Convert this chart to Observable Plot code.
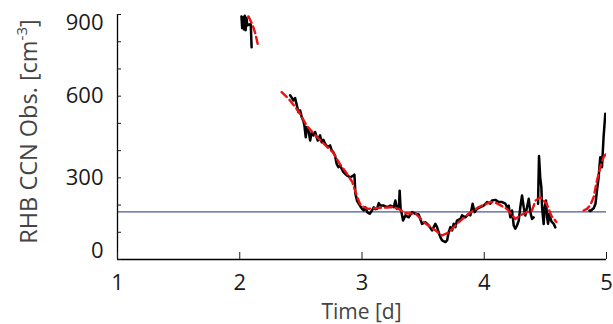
<!DOCTYPE html>
<html>
<head>
<meta charset="utf-8">
<script src="https://cdn.jsdelivr.net/npm/d3@7"></script>
<script src="https://cdn.jsdelivr.net/npm/@observablehq/plot@0.6"></script>
<style>
  html, body { margin: 0; padding: 0; background: #fff; }
  #chart svg { display: block; }
</style>
</head>
<body>
<div id="chart"></div>
<script>
// Observed CCN (black); NaN separates gaps in the record
const obsT = [2.014, 2.020, 2.027, 2.034, 2.041, 2.048, 2.055, 2.062, 2.090, 2.097, NaN,
  2.412, 2.420, 2.439, 2.453, 2.466, 2.480, 2.494, 2.507, 2.520, 2.529, 2.540, 2.548, 2.562, 2.576, 2.589,
  2.603, 2.617, 2.638, 2.657, 2.670, 2.684, 2.698, 2.720, 2.739, 2.753, 2.766, 2.780, 2.793, 2.807, 2.821,
  2.848, 2.875, 2.905, 2.932, 2.938, 2.946, 2.960, 2.973, 2.987, 3.001, 3.014, 3.028, 3.042, 3.063, 3.082,
  3.096, 3.110, 3.123, 3.137, 3.150, 3.178, 3.205, 3.232, 3.260, 3.273, 3.287, 3.303, 3.308, 3.316, 3.320,
  3.336, 3.355, 3.382, 3.410, 3.437, 3.464, 3.491, 3.518, 3.546, 3.573, 3.600, 3.614, 3.627, 3.641, 3.655,
  3.682, 3.696, 3.709, 3.723, 3.737, 3.750, 3.764, 3.777, 3.805, 3.818, 3.845, 3.873, 3.886, 3.905, 3.921,
  3.941, 3.968, 3.995, 4.023, 4.050, 4.064, 4.091, 4.118, 4.146, 4.173, 4.187, 4.200, 4.213, 4.227, 4.241,
  4.254, 4.268, 4.282, 4.295, 4.309, 4.323, 4.336, 4.350, 4.364, 4.377, 4.391, 4.404, NaN,
  4.440, 4.448, 4.458, 4.467, 4.473, 4.486, 4.494, 4.505, 4.514, 4.522, 4.532, 4.549, 4.568, 4.581, NaN,
  4.860, 4.868, 4.895, 4.910, 4.922, 4.935, 4.949, 4.963, 4.976, 4.990];
const obsV = [893, 850, 890, 845, 895, 842, 888, 860, 865, 780, NaN,
  603, 598, 584, 593, 568, 541, 548, 523, 510, 492, 449, 486, 474, 437, 468,
  456, 468, 437, 456, 431, 440, 425, 413, 419, 400, 394, 380, 351, 339, 345,
  321, 309, 302, 309, 312, 242, 215, 205, 195, 186, 180, 192, 174, 168, 180,
  192, 185, 186, 207, 198, 198, 192, 198, 192, 217, 186, 200, 253, 185, 180,
  143, 162, 155, 174, 168, 165, 131, 137, 125, 107, 131, 119, 100, 82, 70,
  64, 70, 100, 119, 107, 131, 119, 143, 149, 162, 155, 168, 162, 205, 174,
  186, 192, 198, 211, 205, 217, 219, 211, 211, 205, 192, 198, 155, 180, 125,
  113, 125, 143, 192, 235, 192, 162, 192, 223, 174, 149, 155, NaN,
  205, 380, 300, 266, 192, 130, 192, 217, 155, 131, 168, 140, 131, 118, NaN,
  180, 178, 188, 205, 253, 300, 376, 339, 449, 535];

// Smoothed fit (red dashed)
const fitT = [2.071, 2.104, 2.128, 2.153, NaN,
  2.343, 2.40, 2.48, 2.55, 2.62, 2.70, 2.76, 2.82, 2.87, 2.92, 2.96, 2.99, 3.05, 3.15, 3.25, 3.30, 3.35,
  3.44, 3.52, 3.60, 3.655, 3.71, 3.79, 3.873, 3.952, 4.05, 4.10, 4.186, 4.254, 4.295, 4.35, 4.39, 4.42,
  4.46, 4.51, 4.55, 4.59, NaN,
  4.813, 4.840, 4.868, 4.895, 4.922, 4.949, 4.976, 5.0];
const fitV = [893, 863, 830, 779, NaN,
  615, 590, 545, 490, 455, 420, 395, 350, 320, 285, 230, 198, 186, 190, 192, 186, 170,
  168, 132, 107, 88, 100, 137, 168, 192, 211, 207, 186, 149, 162, 174, 180, 217,
  229, 205, 160, 138, NaN,
  180, 186, 200, 229, 290, 339, 376, 390];

const refLine = [175];
const xTicks = [1, 2, 3, 4, 5];
const yTicks = [0, 100, 200, 300, 400, 500, 600, 700, 800, 900];

const obs = obsT.map((t, i) => ({t, v: obsV[i]}));
const fit = fitT.map((t, i) => ({t, v: fitV[i]}));

const font = "'Open Sans', 'DejaVu Sans', sans-serif";
const intFmt = d3.format("d");

const plot = Plot.plot({
  width: 613,
  height: 324,
  marginLeft: 117,
  marginRight: 7,
  marginTop: 14,
  marginBottom: 65,
  style: {fontFamily: font, fontSize: "22px", color: "#1a1a1a", background: "#fff"},
  x: {domain: [1, 5]},
  y: {domain: [0, 900]},
  marks: [
    Plot.ruleY(refLine, {stroke: "#4a5799", strokeWidth: 1.1}),
    Plot.line(obs, {x: "t", y: "v", stroke: "#000", strokeWidth: 2.5, clip: true}),
    Plot.line(fit, {x: "t", y: "v", stroke: "#ee1111", strokeWidth: 2.4, strokeDasharray: "7,4", clip: true}),
    Plot.ruleX([1], {stroke: "#000", strokeWidth: 1.3}),
    Plot.ruleY([0], {stroke: "#000", strokeWidth: 1.3}),
    Plot.axisY({ticks: yTicks, tickSize: -4, tickFormat: () => "", label: null}),
    Plot.axisX({ticks: xTicks, tickSize: -7, tickFormat: () => "", label: null}),
    Plot.axisY({ticks: [300, 600], tickSize: 0, tickPadding: 14, fontSize: 22, tickFormat: intFmt, label: null}),
    Plot.axisY({ticks: [900], tickSize: 0, tickPadding: 14, dy: 8, fontSize: 22, tickFormat: intFmt, label: null}),
    Plot.axisY({ticks: [0], tickSize: 0, tickPadding: 14, dy: -9, fontSize: 22, tickFormat: intFmt, label: null}),
    Plot.axisX({ticks: xTicks, tickSize: 0, tickPadding: 15, fontSize: 22, tickFormat: intFmt, label: null})
  ]
});

const svg = d3.select(plot);
const xs = plot.scale("x"), ys = plot.scale("y");
// x axis title
svg.append("text")
  .attr("x", (xs.range[0] + xs.range[1]) / 2)
  .attr("y", 319)
  .attr("text-anchor", "middle")
  .attr("font-family", font)
  .attr("font-size", 21)
  .attr("fill", "#444")
  .text("Time [d]");
// y axis title with superscript
const yt = svg.append("text")
  .attr("transform", `translate(37,${(ys.range[0] + ys.range[1]) / 2 - 5}) rotate(-90)`)
  .attr("text-anchor", "middle")
  .attr("font-family", font)
  .attr("font-size", 23.5)
  .attr("fill", "#444");
yt.append("tspan").text("RHB CCN Obs. [cm");
yt.append("tspan").attr("font-size", 15).attr("dy", -10).text("-3");
yt.append("tspan").attr("dy", 10).text("]");

document.getElementById("chart").appendChild(plot);
</script>
</body>
</html>
